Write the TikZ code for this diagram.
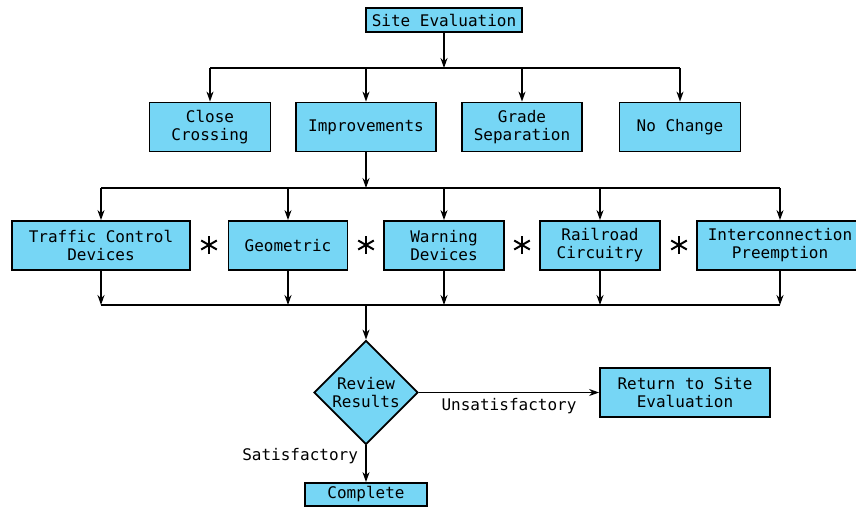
\documentclass[tikz,border=0pt]{standalone}
\usepackage{fontspec}
\setmonofont{DejaVu Sans Mono}
\usetikzlibrary{positioning, shapes.geometric, arrows.meta}
\definecolor{boxblue}{RGB}{118,214,245}
\tikzstyle{process} = [rectangle, minimum height=49pt, text centered, align=center, draw=black, line width=1.8pt, fill=boxblue, font=\ttfamily\fontsize{16}{18}\selectfont]
\tikzstyle{decision} = [diamond, minimum width=104pt, minimum height=104pt, inner sep=0pt, align=center, draw=black, line width=1.8pt, fill=boxblue, font=\ttfamily\fontsize{16}{18}\selectfont]
\tikzstyle{arrow} = [line width=1.5pt,->,>={Stealth[length=10pt,width=7pt]}]
\tikzstyle{bar} = [line width=1.5pt]
\tikzstyle{caption} = [font=\ttfamily\fontsize{16}{18}\selectfont]

\begin{document}
\begin{tikzpicture}[x=1pt, y=-1pt]
        \useasboundingbox (0,0) rectangle (856,506);

        \node[process, minimum width=156pt, minimum height=24pt] (site)     at (444,20)    {Site Evaluation};
        \node[process, minimum width=121pt]                     (close)    at (210,127)   {Close\\Crossing};
        \node[process, minimum width=140pt]                     (improve)  at (366,127)   {Improvements};
        \node[process, minimum width=120pt]                     (grade)    at (522,127)   {Grade\\Separation};
        \node[process, minimum width=121pt]                     (nochange) at (680,127)   {No Change};

        \node[process, minimum width=178pt]                     (traffic)  at (101,245.5) {Traffic Control\\Devices};
        \node[process, minimum width=119pt]                     (geom)     at (288,245.5) {Geometric};
        \node[process, minimum width=120pt]                     (warning)  at (444,245.5) {Warning\\Devices};
        \node[process, minimum width=120pt]                     (railroad) at (600,245.5) {Railroad\\Circuitry};
        \node[process, minimum width=166pt]                     (inter)    at (780,245.5) {Interconnection\\Preemption};

        \node[decision]                                         (review)   at (366,392.5) {Review\\Results};
        \node[process, minimum width=170pt]                     (return)   at (685,392.5) {Return to Site\\Evaluation};
        \node[process, minimum width=122pt, minimum height=23pt] (complete) at (366,494.5) {Complete};

        % first split
        \coordinate (split1) at (444,68);
        \draw[arrow] (site) -- (split1);
        \draw[bar] (close.north |- split1) -- (nochange.north |- split1);
        \foreach \n in {close, improve, grade, nochange}
            \draw[arrow] (\n.north |- split1) -- (\n);

        % second split
        \coordinate (split2) at (366,188);
        \draw[arrow] (improve) -- (split2);
        \draw[bar] (traffic.north |- split2) -- (inter.north |- split2);
        \foreach \n in {traffic, geom, warning, railroad, inter}
            \draw[arrow] (\n.north |- split2) -- (\n);

        % join
        \coordinate (join) at (366,305);
        \foreach \n in {traffic, geom, warning, railroad, inter}
            \draw[arrow] (\n) -- (\n.south |- join);
        \draw[bar] (traffic.south |- join) -- (inter.south |- join);
        \draw[arrow] (join) -- (review);

        % asterisks between the options
        \foreach \x in {209, 366, 522, 679}
            \foreach \a in {90, 30, 150}
                \draw[line width=2pt] (\x,245) ++(\a:9) -- ++(\a+180:18);

        \draw[arrow] (review) -- node[caption, below=2pt] {Unsatisfactory} (return);
        \draw[arrow] (review) -- node[caption, left=4pt, pos=0.3] {Satisfactory} (complete);
    \end{tikzpicture}
\end{document}
